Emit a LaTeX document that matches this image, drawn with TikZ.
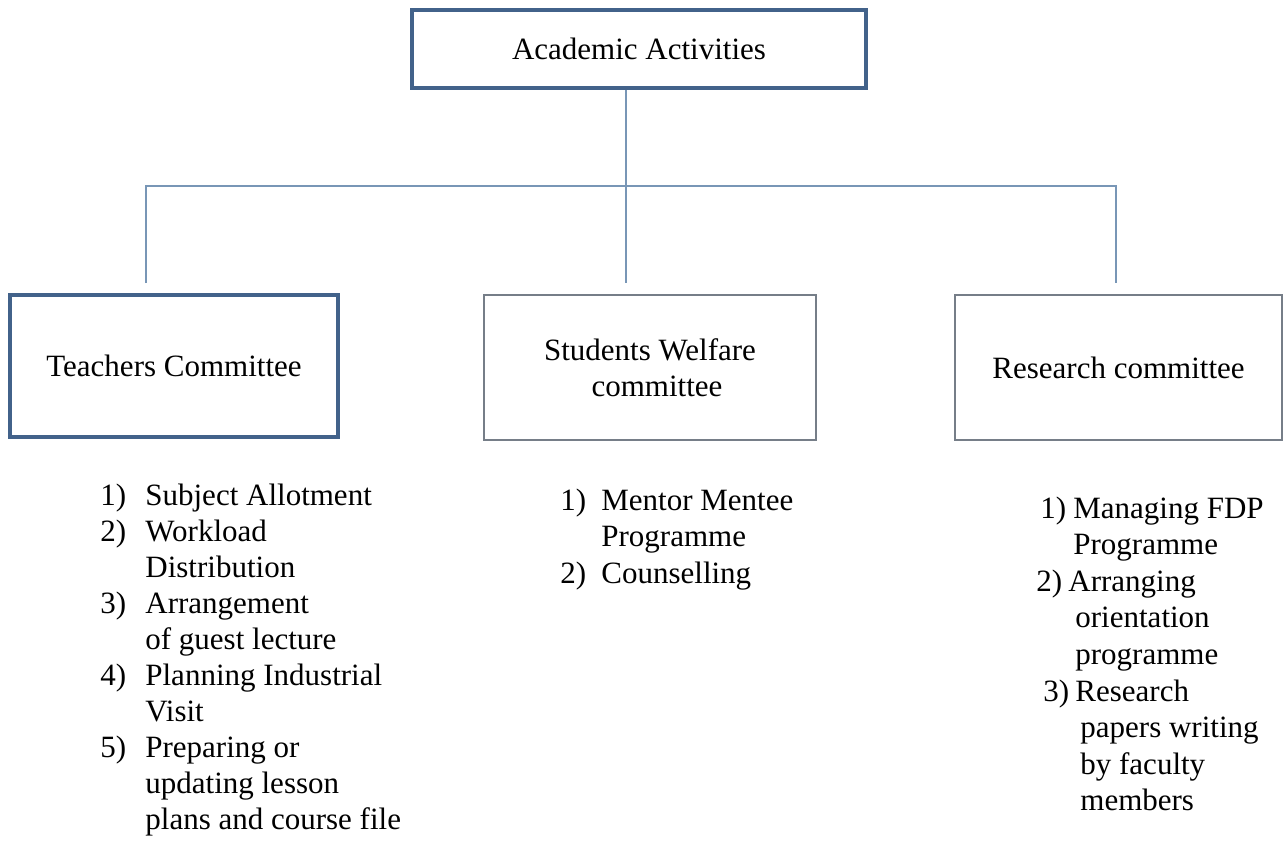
\documentclass[tikz,border=0pt]{standalone}
\usepackage{fontspec}
\setmainfont{Liberation Serif}
\usetikzlibrary{positioning}

\definecolor{boxblue}{RGB}{66,98,138}
\definecolor{boxgray}{RGB}{118,126,136}
\definecolor{linkblue}{RGB}{120,150,182}

\begin{document}
\begin{tikzpicture}[x=0.5pt, y=-0.5pt, font=\fontsize{15.5pt}{18pt}\selectfont,
        main/.style = {draw=boxblue, line width=2pt, inner sep=0pt, align=center},
        sub/.style = {draw=boxgray, line width=0.8pt, inner sep=0pt, align=center},
        list/.style = {anchor=base west, inner sep=0pt},
        link/.style = {draw=linkblue, line width=1pt}]
            \useasboundingbox (0,0) rectangle (1285,841);

            \node[main, minimum width=227pt, minimum height=39pt]    (1) at (639,49)      {Academic Activities};
            \node[main, minimum width=164pt, minimum height=71pt]    (2) at (174,366)     {Teachers Committee};
            \node[sub, minimum width=166pt, minimum height=72.5pt]   (3) at (650,367.5)   {Students Welfare\\\hspace{7pt}committee};
            \node[sub, minimum width=163.5pt, minimum height=72.5pt] (4) at (1118.5,367.5) {Research committee};

            \node[list] (5) at (100,505) {\begin{tabular}[t]{@{}p{22.5pt}@{}l@{}}
                1) & Subject Allotment\\
                2) & Workload\\
                   & Distribution\\
                3) & Arrangement\\
                   & of guest lecture\\
                4) & Planning Industrial\\
                   & Visit\\
                5) & Preparing or\\
                   & updating lesson\\
                   & plans and course file
            \end{tabular}};
            \node[list] (6) at (560,510) {\begin{tabular}[t]{@{}p{20.5pt}@{}l@{}}
                1) & Mentor Mentee\\[0.3pt]
                   & Programme\\[0.3pt]
                2) & Counselling
            \end{tabular}};
            \node[list] (7) at (1040,518) {\begin{tabular}[t]{@{}p{16.5pt}@{}l@{}}
                1) & Managing FDP\\[0.3pt]
                   & Programme\\[0.3pt]
                \hspace{-2pt}2) & \hspace{-2.5pt}Arranging\\[0.3pt]
                   & \hspace{1pt}orientation\\[0.3pt]
                   & \hspace{1pt}programme\\[0.3pt]
                \hspace{1.5pt}3) & \hspace{1pt}Research\\[0.3pt]
                   & \hspace{3.5pt}papers writing\\[0.3pt]
                   & \hspace{3.5pt}by faculty\\[0.3pt]
                   & \hspace{3.5pt}members
            \end{tabular}};

            \coordinate (j) at (626,186);
            \coordinate (a) at (146,283);
            \coordinate (b) at (626,283);
            \coordinate (c) at (1116,283);

            \draw[link] (1.south -| j) -- (j);
            \draw[link] (a) |- (j) -| (c);
            \draw[link] (j) -- (b);
        \end{tikzpicture}
\end{document}
